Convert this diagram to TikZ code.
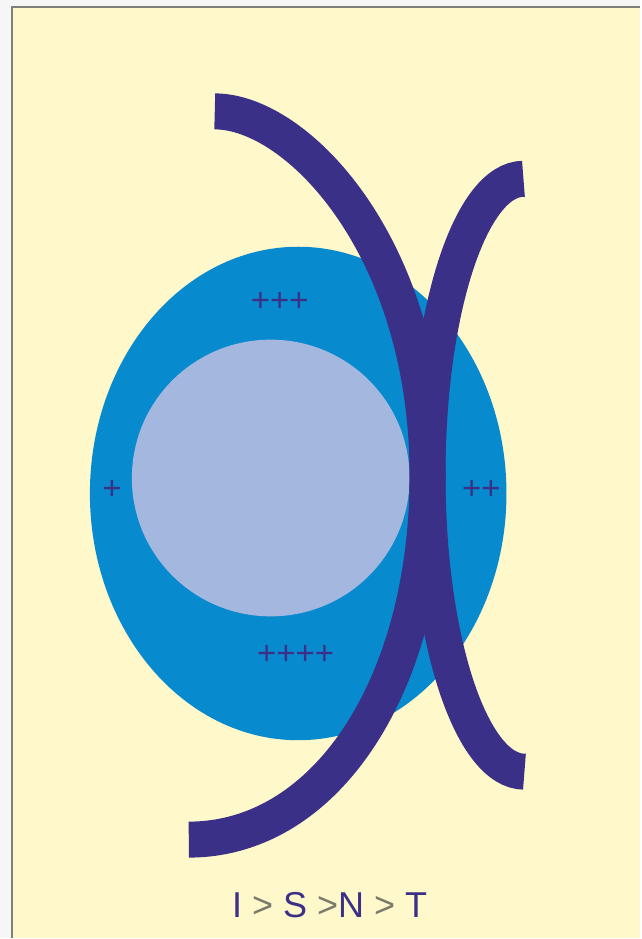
\documentclass[tikz,border=0pt]{standalone}
\usepackage{fontspec}
\setmainfont{Liberation Sans}
\usetikzlibrary{positioning}
\definecolor{cream}{RGB}{254,248,202}
\definecolor{outerblue}{RGB}{8,138,206}
\definecolor{innerblue}{RGB}{164,183,223}
\definecolor{arcpurple}{RGB}{59,48,135}
\definecolor{gtgray}{RGB}{122,122,108}
\definecolor{framegray}{RGB}{128,128,122}

\begin{document}
\begin{tikzpicture}[x=1pt,y=-1pt,
  plusmark/.style={anchor=base,inner sep=0pt,text=arcpurple,font=\fontsize{33}{33}\selectfont},
  band/.style={draw=arcpurple,line width=36pt}]
% page: light margin, frame line, cream field
\fill[gray!7] (0,0) rectangle (641,939);
\fill[cream] (12,7) rectangle (641,939);
\draw[framegray,line width=2pt] (12,939) -- (12,7) -- (641,7);
% outer oval and inner disc
\fill[outerblue] (298.5,494) ellipse [x radius=208.5,y radius=247];
\fill[innerblue] (271,478.5) ellipse [x radius=139,y radius=138.5];
% left band ")" and right band "("
\draw[band] (215,111.5) .. controls (298,111.5) and (428,248) .. (428,476)
  .. controls (428,685) and (327,840.5) .. (189,840.5);
\draw[band] (524,179) .. controls (471,179) and (428,311.7) .. (428,475.5)
  .. controls (428,639.3) and (471.4,772.5) .. (525,772.5);
% charges
\node[plusmark] (top) at (280,312) {+++};
\node[plusmark] (left) at (112,500) {+};
\node[plusmark] (right) at (482,500) {++};
\node[plusmark] (bottom) at (296,665) {++++};
% ordering
\node[anchor=base,inner sep=0pt,text=arcpurple,font=\fontsize{36}{36}\selectfont] (order) at (330,918)
  {I \textcolor{gtgray}{>} S \textcolor{gtgray}{>}N \textcolor{gtgray}{>} T};
\useasboundingbox (0,0) rectangle (641,939);
\end{tikzpicture}
\end{document}
